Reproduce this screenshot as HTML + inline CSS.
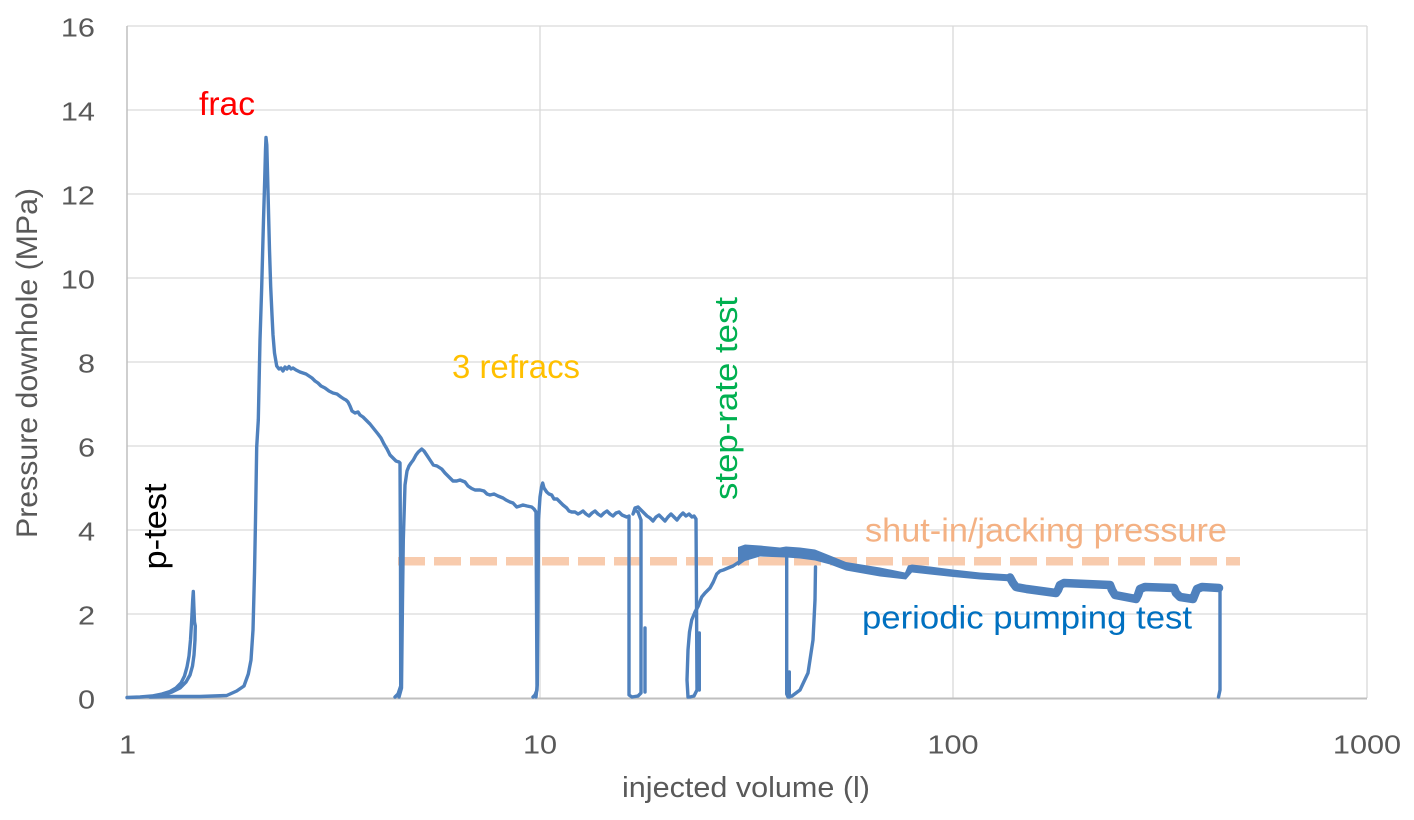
<!DOCTYPE html>
<html>
<head>
<meta charset="utf-8">
<style>
  html, body { margin: 0; padding: 0; background: #ffffff; }
  svg { display: block; }
  text { font-family: "Liberation Sans", Arial, sans-serif; }
</style>
</head>
<body>
<svg width="1414" height="820" viewBox="0 0 1414 820" xmlns="http://www.w3.org/2000/svg">
  <rect x="0" y="0" width="1414" height="820" fill="#ffffff"/>

  <!-- horizontal gridlines -->
  <g stroke="#D9D9D9" stroke-width="1.3" fill="none">
    <line x1="127" y1="26" x2="1367" y2="26"/>
    <line x1="127" y1="110" x2="1367" y2="110"/>
    <line x1="127" y1="194" x2="1367" y2="194"/>
    <line x1="127" y1="278" x2="1367" y2="278"/>
    <line x1="127" y1="362" x2="1367" y2="362"/>
    <line x1="127" y1="446" x2="1367" y2="446"/>
    <line x1="127" y1="530" x2="1367" y2="530"/>
    <line x1="127" y1="614" x2="1367" y2="614"/>
    <!-- vertical gridlines -->
    <line x1="540" y1="26" x2="540" y2="698"/>
    <line x1="953" y1="26" x2="953" y2="698"/>
    <line x1="1367" y1="26" x2="1367" y2="698"/>
  </g>
  <!-- axes -->
  <line x1="127" y1="26" x2="127" y2="699" stroke="#BFBFBF" stroke-width="1.5"/>
  <line x1="126" y1="698.5" x2="1367" y2="698.5" stroke="#BFBFBF" stroke-width="2"/>

  <!-- y tick labels -->
  <g fill="#595959" font-size="26" text-anchor="end">
    <text transform="translate(95,36.5) scale(1.18,1)">16</text>
    <text transform="translate(95,120.5) scale(1.18,1)">14</text>
    <text transform="translate(95,204.5) scale(1.18,1)">12</text>
    <text transform="translate(95,288.5) scale(1.18,1)">10</text>
    <text transform="translate(95,372.5) scale(1.18,1)">8</text>
    <text transform="translate(95,456.5) scale(1.18,1)">6</text>
    <text transform="translate(95,540.5) scale(1.18,1)">4</text>
    <text transform="translate(95,624.5) scale(1.18,1)">2</text>
    <text transform="translate(95,708.5) scale(1.18,1)">0</text>
  </g>
  <!-- x tick labels -->
  <g fill="#595959" font-size="26" text-anchor="middle">
    <text transform="translate(127.5,753.5) scale(1.18,1)">1</text>
    <text transform="translate(540,753.5) scale(1.18,1)">10</text>
    <text transform="translate(953,753.5) scale(1.18,1)">100</text>
    <text transform="translate(1367,753.5) scale(1.18,1)">1000</text>
  </g>

  <!-- axis titles -->
  <text transform="translate(37,363) rotate(-90)" text-anchor="middle" font-size="30" fill="#595959" textLength="350" lengthAdjust="spacingAndGlyphs">Pressure downhole (MPa)</text>
  <text x="622" y="797" font-size="29" fill="#595959" textLength="248" lengthAdjust="spacingAndGlyphs">injected volume (l)</text>

  <!-- dashed shut-in line -->
  <line x1="398" y1="561.3" x2="1240" y2="561.3" stroke="#F8CBAD" stroke-width="8.5" stroke-dasharray="27 9"/>

  <!-- data series -->
  <g fill="none" stroke="#4F81BD" stroke-width="3.4" stroke-linejoin="round" stroke-linecap="round">
    <!-- p-test + frac + main decline -->
    <path d="M127,697.5 L140,697 L152,696 L162,694 L170,691.5 L176,688 L181,683 L184.5,676 L187,667 L189,656 L190.5,640 L191.7,620 L192.7,600 L193.3,591.5 L193.8,605 L194.5,622 L195.3,626 L195,640 L194,655 L192.5,666 L190,675 L186,682 L180,688 L172,692 L163,695 L150,697 L170,696.5 L200,696.5 L226.7,695.5 L236.7,691 L244,686 L248.3,674 L251,660 L253,630 L254.5,573 L255.5,520 L256.7,447 L258.3,420 L260,340 L261.7,287 L263.5,220 L264.7,180 L265.5,150 L266,137.5 L266.8,145 L268.3,203 L269.5,250 L270.7,287 L272,315 L273,335 L274.5,353 L276.7,366 L279,369 L281,368 L283,371 L285,367 L287,369 L289,366.5 L291,369 L293,368 L296,370 L300,372 L303,373 L306,374 L309,376 L312,378 L315,381 L318,383 L321,386 L325,388 L329,391 L333,393 L337,394 L341,397 L344,399 L346,400 L348,402 L350,406 L352,411 L355,413 L358,412 L360,415 L363,417 L366,420 L370,424 L374,429 L378,434 L381,438 L384,444 L387,449 L390,455 L393,458 L396,461 L399,462 L400,463 L400.5,560 L400.7,686 L398,694 L395,697"/>
    <!-- refrac 1 -->
    <path d="M399,697 L401.5,688 L402.5,600 L403.3,540 L405,485 L407,471 L409,466 L411,463 L413.3,460 L416,455 L418.3,452 L421.7,449 L424,451 L426.7,455 L430,460 L433.3,465 L437,466 L441.7,469 L445,473 L450,478 L453,481 L456.7,481 L460,480 L465,482 L468,486 L471.7,488.5 L475,490 L480,490 L484,491 L487,494 L490,495 L494,494 L498,496 L503,498 L506,500 L510,502 L513,503 L516.7,507 L520,506 L523,505 L527,506 L531.7,507 L534,509 L536,512 L536.5,600 L537,690 L535,695 L533,697"/>
    <!-- refrac 2 -->
    <path d="M536,697 L537.3,685 L538,600 L538.5,520 L540,497 L541.5,487 L542.7,483 L544,488 L546.7,492 L549,494 L551.7,495 L554,499 L557,499 L560,502 L563,505 L566.7,508 L569,511 L571.7,512 L575,512 L578,514 L580,513 L583,511 L586,514 L589,516 L592,513 L595,511 L598,514 L601,516 L604,513 L607,511 L610,514 L613,516 L616,513 L619,512 L622,515 L626.7,517 L629,516"/>
    <!-- refrac 3 / step rate -->
    <path d="M629,517 L629,695 L632,697 L638,696 L641,693 L641,520 L638,512 L635,510 L633,514 L635,508 L638,507 L641,510 L644,513 L647,516 L650,518 L653,521 L656,517 L659,515 L662,518 L665,521 L668,517 L671,514 L674,517 L677,520 L680,516 L683,513 L686,516 L689,514 L692,517 L694,516 L696,519 L696.5,600 L697,690 L694,696 L690,697"/>
    <path d="M645,628 L645,692"/>
    <path d="M688,697 L687,680 L688,650 L689.5,632 L691.7,620 L695,612 L698.3,606 L701.7,597 L705,593 L710,588 L713.3,582 L716.7,574 L720,571 L723.3,570 L728,568 L733,566 L739,562"/>
    <path d="M699.3,633 L699.3,690"/>
    <!-- second step-rate cycle -->
    <path d="M786.7,552 L786.7,694 L788,697 L792,696 L800,690 L808,673 L813,640 L815,600 L815.5,567"/>
    <path d="M789.3,672 L789.3,697"/>
    <!-- periodic pumping -->
    <path stroke-width="8.5" d="M1010,577.5 L1013,583 L1016,587 L1026.7,589 L1056,593 L1058,590 L1060,585 L1064,583 L1110,585 L1112,590 L1115,595 L1136,599 L1138,595 L1140,589 L1145,587 L1174,588 L1176,593 L1180,597 L1193,599 L1195,594 L1197,589 L1202,587 L1219,588"/>
    <path d="M1220,588 L1220,690 L1218.5,697"/>
  </g>
  <!-- thick band of the long-term injection -->
  <polygon fill="#4F81BD" points="738,547 745,544.5 760,545.5 780,547.5 786,546.5 800,547.5 815,549.5 830,555.5 846,562 880,567.5 905,572.5 908,565.5 912,564.5 930,566.5 953,569.5 980,572.5 1012,574.5 1012,581.5 980,579.5 953,577 930,574.5 912,572.5 906,579.5 880,576.5 846,570.5 830,564.5 815,560.5 800,558.5 786,557.5 760,556.5 745,561 738,566"/>

  <!-- annotations -->
  <text x="199" y="115" font-size="33" fill="#FF0000" textLength="56" lengthAdjust="spacingAndGlyphs">frac</text>
  <text x="452" y="378" font-size="33" fill="#FFC000" textLength="128" lengthAdjust="spacingAndGlyphs">3 refracs</text>
  <text transform="translate(737,398.5) rotate(-90)" text-anchor="middle" font-size="32" fill="#00B050" textLength="203" lengthAdjust="spacingAndGlyphs">step-rate test</text>
  <text transform="translate(166,526.5) rotate(-90)" text-anchor="middle" font-size="32" fill="#000000" textLength="86" lengthAdjust="spacingAndGlyphs">p-test</text>
  <text x="865" y="541.5" font-size="33" fill="#F4B183" textLength="362" lengthAdjust="spacingAndGlyphs">shut-in/jacking pressure</text>
  <text x="862" y="628.5" font-size="32" fill="#0070C0" textLength="330" lengthAdjust="spacingAndGlyphs">periodic pumping test</text>
</svg>
</body>
</html>
